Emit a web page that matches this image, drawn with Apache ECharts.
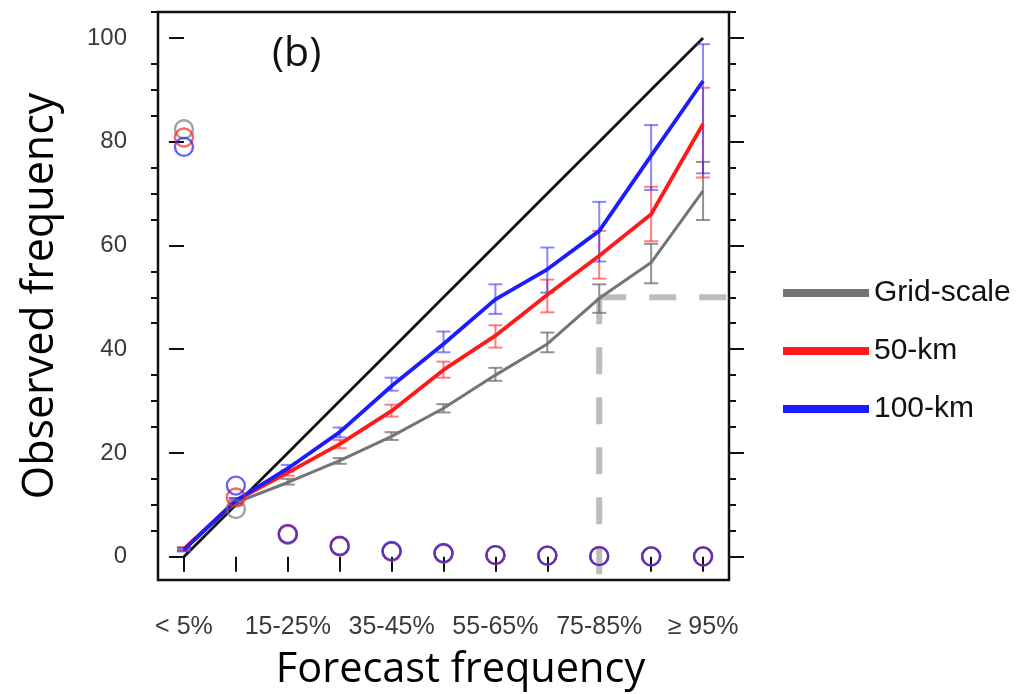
<!DOCTYPE html>
<html>
<head>
<meta charset="utf-8">
<script src="https://cdn.jsdelivr.net/npm/echarts@6.0.0/dist/echarts.min.js"></script>
<style>
html,body{margin:0;padding:0;background:#fff;}
#chart{width:1021px;height:694px;}
</style>
</head>
<body>
<div id="chart"></div>
<script>
// ---- data ----
const categories = ['< 5%', '5-15%', '15-25%', '25-35%', '35-45%', '45-55%', '55-65%', '65-75%', '75-85%', '85-95%', '≥ 95%'];
const perfectLine = [0, 10, 20, 30, 40, 50, 60, 70, 80, 90, 100];

const gridScale = [1.5, 10.4, 14.3, 18.5, 23.2, 28.6, 35.0, 41.0, 49.8, 56.7, 70.5];
const km50      = [1.5, 10.8, 16.2, 21.7, 28.1, 36.0, 42.6, 50.5, 58.0, 66.0, 83.4];
const km100     = [1.3, 10.8, 17.0, 24.0, 32.9, 41.0, 49.6, 55.4, 62.8, 77.3, 91.7];

const gridScaleLow  = [1.2, 9.9, 13.9, 17.9, 22.5, 27.8, 33.9, 39.4, 47.0, 52.7, 64.9];
const gridScaleHigh = [1.8, 10.9, 15.0, 19.0, 24.0, 29.4, 36.4, 43.2, 52.5, 60.3, 76.1];
const km50Low       = [1.2, 10.3, 15.6, 20.9, 27.0, 34.5, 40.3, 47.1, 53.6, 60.8, 73.1];
const km50High      = [1.8, 11.3, 16.7, 22.5, 29.3, 37.6, 44.6, 53.4, 62.8, 71.3, 90.4];
const km100Low      = [1.0, 10.3, 16.4, 23.0, 32.0, 39.4, 46.8, 50.9, 56.9, 70.7, 73.9];
const km100High     = [1.6, 11.3, 17.7, 24.9, 34.5, 43.4, 52.5, 59.6, 68.4, 83.2, 98.8];

const gridScaleCount = [82.4, 9.2, 4.2, 2.0, 1.0, 0.6, 0.3, 0.2, 0.1, 0.05, 0.05];
const km50Count      = [80.8, 11.4, 4.3, 2.0, 1.0, 0.6, 0.3, 0.2, 0.1, 0.05, 0.05];
const km100Count     = [79.0, 13.7, 4.4, 2.1, 1.1, 0.7, 0.3, 0.2, 0.1, 0.05, 0.05];

const refCategoryIndex = 8;   // 75-85%
const refValue = 50;
const yMajorTicks = [0, 20, 40, 60, 80, 100];
const yMinorTicks = [5, 10, 15, 25, 30, 35, 45, 50, 55, 65, 70, 75, 85, 90, 95, 105];

// ---- styles ----
const GRAY = '#747474', RED = '#ff1a1a', BLUE = '#1c1cff';
const GRAY_E = 'rgba(110,110,110,0.75)', RED_E = 'rgba(255,40,40,0.6)', BLUE_E = 'rgba(40,40,255,0.55)';
const GRAY_C = 'rgba(110,110,110,0.8)', RED_C = 'rgba(255,30,30,0.85)', BLUE_C = 'rgba(40,40,235,0.9)';
const tickFont = 'Liberation Sans, Arial, Helvetica, sans-serif';
const titleFont = 'Open Sans, Noto Sans, sans-serif';

function errRender(color) {
  return function (params, api) {
    const x = api.value(0);
    const pLo = api.coord([x, api.value(1)]);
    const pHi = api.coord([x, api.value(2)]);
    const w = 7;
    const st = { stroke: color, lineWidth: 2 };
    return {
      type: 'group',
      children: [
        { type: 'line', shape: { x1: pLo[0], y1: pLo[1], x2: pHi[0], y2: pHi[1] }, style: st },
        { type: 'line', shape: { x1: pLo[0] - w, y1: pLo[1], x2: pLo[0] + w, y2: pLo[1] }, style: st },
        { type: 'line', shape: { x1: pHi[0] - w, y1: pHi[1], x2: pHi[0] + w, y2: pHi[1] }, style: st }
      ]
    };
  };
}
function errData(lo, hi) { return categories.map((c, i) => [i, lo[i], hi[i]]); }

function yAxisDef(pos, ticks, len, labels) {
  return {
    type: 'value', min: -4.5, max: 105, position: pos,
    axisLine: { show: false },
    splitLine: { show: false },
    axisTick: { show: true, customValues: ticks, length: len, lineStyle: { color: '#111', width: 2 } },
    axisLabel: labels ? { show: true, customValues: yMajorTicks, margin: 31, fontSize: 24, color: '#3a3a3a', fontFamily: tickFont } : { show: false }
  };
}

const chart = echarts.init(document.getElementById('chart'), null, { renderer: 'canvas' });
const yMain = yAxisDef('left', yMajorTicks, 15, true);
yMain.name = 'Observed frequency';
yMain.nameLocation = 'middle';
yMain.nameGap = 96;
yMain.nameTextStyle = { fontSize: 43, fontFamily: titleFont, color: '#000' };

chart.setOption({
  animation: false,
  backgroundColor: '#fff',
  grid: { left: 158, top: 12, width: 571, height: 568, show: true, borderColor: '#111', borderWidth: 2.5, backgroundColor: 'transparent', outerBoundsMode: 'none', containLabel: false },
  graphic: [{
    type: 'text', left: 272, top: 34, style: { text: '(b)', fontSize: 41, fontFamily: titleFont, fill: '#111' }
  }],
  legend: {
    data: ['Grid-scale', '50-km', '100-km'],
    orient: 'vertical', left: 778, top: 273, itemGap: 28,
    icon: 'rect', itemWidth: 86, itemHeight: 8,
    textStyle: { fontSize: 30, lineHeight: 30, fontFamily: tickFont, color: '#111' },
    selectedMode: false
  },
  xAxis: [{
    type: 'category', data: categories, boundaryGap: true, position: 'bottom',
    axisLine: { show: false },
    axisTick: { show: true, alignWithLabel: true, interval: 0, length: 15, lineStyle: { color: '#111', width: 2 } },
    axisLabel: { interval: 1, margin: 35, fontSize: 25, color: '#3a3a3a', fontFamily: tickFont },
    name: 'Forecast frequency', nameLocation: 'middle', nameGap: 69,
    nameTextStyle: { fontSize: 41.5, fontFamily: titleFont, color: '#000', padding: [0, 0, 0, 34] }
  }, {
    type: 'value', min: -0.5, max: 10.5, show: false
  }],
  yAxis: [
    yMain,
    yAxisDef('left', yMinorTicks, 7, false),
    yAxisDef('right', yMajorTicks, 15, false),
    yAxisDef('right', yMinorTicks, 7, false)
  ],
  series: [
    { name: 'ref-h', type: 'line', xAxisIndex: 1, yAxisIndex: 0, symbol: 'none', z: 1,
      data: [[refCategoryIndex, refValue], [10.5, refValue]],
      lineStyle: { color: '#bdbdbd', width: 6, type: [27, 23] } },
    { name: 'ref-v', type: 'line', xAxisIndex: 1, yAxisIndex: 0, symbol: 'none', z: 1,
      data: [[refCategoryIndex, refValue], [refCategoryIndex, -4.5]],
      lineStyle: { color: '#bdbdbd', width: 6, type: [27, 23] } },
    { name: 'perfect', type: 'line', data: perfectLine, symbol: 'none', z: 2,
      lineStyle: { color: '#111', width: 2.8 } },
    { name: 'Grid-scale err', type: 'custom', renderItem: errRender(GRAY_E), data: errData(gridScaleLow, gridScaleHigh), encode: { x: 0, y: [1, 2] }, z: 3 },
    { name: '50-km err', type: 'custom', renderItem: errRender(RED_E), data: errData(km50Low, km50High), encode: { x: 0, y: [1, 2] }, z: 3 },
    { name: '100-km err', type: 'custom', renderItem: errRender(BLUE_E), data: errData(km100Low, km100High), encode: { x: 0, y: [1, 2] }, z: 3 },
    { name: 'Grid-scale', type: 'line', data: gridScale, symbol: 'none', color: GRAY, z: 4,
      lineStyle: { color: GRAY, width: 3 } },
    { name: '50-km', type: 'line', data: km50, symbol: 'none', color: RED, z: 4,
      lineStyle: { color: RED, width: 3.8 } },
    { name: '100-km', type: 'line', data: km100, symbol: 'none', color: BLUE, z: 4,
      lineStyle: { color: BLUE, width: 3.8 } },
    { name: 'Grid-scale n', type: 'scatter', data: gridScaleCount, symbol: 'circle', symbolSize: 18, z: 5,
      itemStyle: { color: 'transparent', borderColor: GRAY_C, borderWidth: 2.4 } },
    { name: '50-km n', type: 'scatter', data: km50Count, symbol: 'circle', symbolSize: 18, z: 5,
      itemStyle: { color: 'transparent', borderColor: RED_C, borderWidth: 2.4 } },
    { name: '100-km n', type: 'scatter', data: km100Count, symbol: 'circle', symbolSize: 18, z: 5,
      itemStyle: { color: 'transparent', borderColor: BLUE_C, borderWidth: 2.4 } }
  ]
});
</script>
</body>
</html>
